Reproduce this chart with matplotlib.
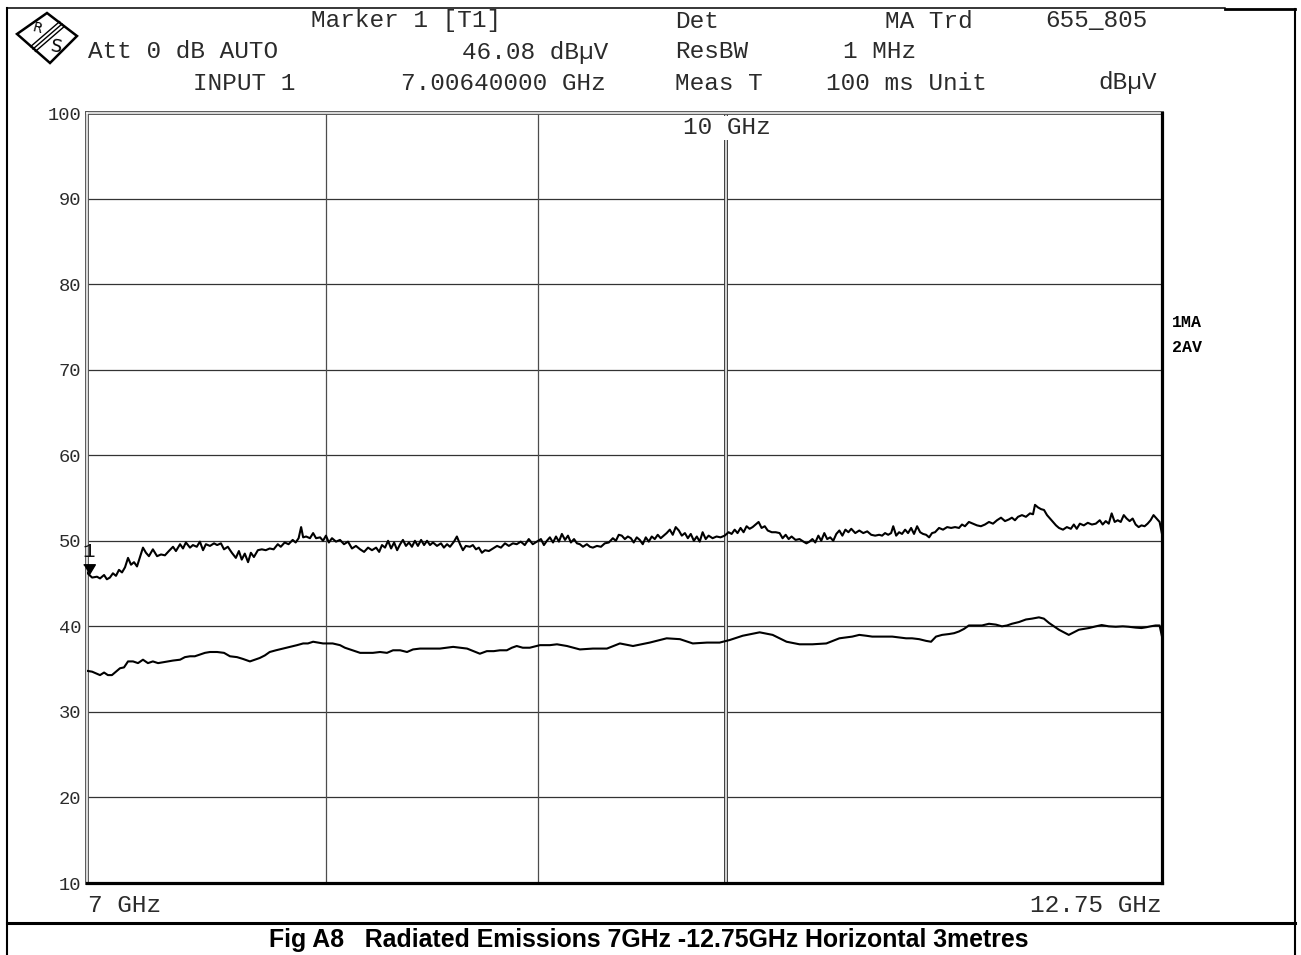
"""
EMC test plot: radiated emissions 7 GHz - 12.75 GHz, horizontal, 3 m.
Redraws the spectrum analyser screen (max-hold and average traces).
"""

import matplotlib
matplotlib.use("Agg")
import matplotlib.pyplot as plt
from matplotlib.patches import Polygon
from matplotlib.ticker import NullLocator

W, H, DPI = 1301, 955, 100
MONO = "Liberation Mono"
INK = "#2b2b2b"
TEXT_PT = 17.6

# sweep settings (GHz / dBuV)
F_START, F_STOP = 7.0, 12.75
LEVEL_MIN, LEVEL_MAX = 10, 100
Y_TICKS = [10, 20, 30, 40, 50, 60, 70, 80, 90, 100]
GRID_FREQS = [8, 9]
DECADE_FREQ = 10

MARKER_FREQ = 7.0064
MARKER_LEVEL = 46.08

# trace 1: max hold
MA_GHZ = [
    7.000, 7.0064, 7.020, 7.039, 7.051, 7.067, 7.078, 7.090, 7.102, 7.114,
    7.126, 7.138, 7.150, 7.162, 7.174, 7.186, 7.198, 7.210, 7.222, 7.234,
    7.246, 7.262, 7.279, 7.295, 7.311, 7.327, 7.344, 7.356, 7.373, 7.385,
    7.397, 7.414, 7.426, 7.442, 7.455, 7.468, 7.480, 7.497, 7.514, 7.527,
    7.543, 7.556, 7.572, 7.589, 7.606, 7.619, 7.631, 7.644, 7.658, 7.670,
    7.683, 7.700, 7.717, 7.734, 7.751, 7.768, 7.786, 7.799, 7.816, 7.833,
    7.851, 7.864, 7.877, 7.888, 7.897, 7.910, 7.927, 7.941, 7.954, 7.972,
    7.985, 7.998, 8.011, 8.025, 8.043, 8.061, 8.079, 8.097, 8.115, 8.133,
    8.152, 8.170, 8.188, 8.206, 8.225, 8.239, 8.252, 8.266, 8.280, 8.294,
    8.308, 8.322, 8.336, 8.349, 8.363, 8.377, 8.391, 8.405, 8.419, 8.434,
    8.448, 8.462, 8.476, 8.490, 8.509, 8.528, 8.542, 8.557, 8.571, 8.590,
    8.604, 8.619, 8.633, 8.647, 8.667, 8.681, 8.696, 8.710, 8.725, 8.740,
    8.759, 8.779, 8.799, 8.818, 8.838, 8.857, 8.877, 8.896, 8.916, 8.936,
    8.956, 8.976, 8.997, 9.017, 9.032, 9.047, 9.062, 9.078, 9.093, 9.108,
    9.123, 9.139, 9.154, 9.169, 9.185, 9.200, 9.215, 9.231, 9.251, 9.267,
    9.282, 9.303, 9.324, 9.344, 9.365, 9.386, 9.402, 9.417, 9.433, 9.449,
    9.465, 9.481, 9.496, 9.512, 9.528, 9.544, 9.560, 9.576, 9.592, 9.608,
    9.624, 9.640, 9.656, 9.672, 9.689, 9.705, 9.721, 9.738, 9.754, 9.771,
    9.787, 9.803, 9.820, 9.836, 9.852, 9.868, 9.885, 9.901, 9.923, 9.945,
    9.967, 9.990, 10.012, 10.029, 10.046, 10.062, 10.079, 10.096, 10.113, 10.130,
    10.147, 10.164, 10.181, 10.198, 10.216, 10.233, 10.256, 10.279, 10.301, 10.318,
    10.336, 10.353, 10.370, 10.393, 10.416, 10.439, 10.456, 10.474, 10.491, 10.508,
    10.526, 10.543, 10.561, 10.578, 10.596, 10.614, 10.632, 10.650, 10.668, 10.686,
    10.704, 10.721, 10.745, 10.769, 10.793, 10.817, 10.841, 10.865, 10.889, 10.907,
    10.925, 10.944, 10.962, 10.975, 10.993, 11.011, 11.029, 11.048, 11.066, 11.085,
    11.103, 11.122, 11.141, 11.159, 11.178, 11.197, 11.215, 11.234, 11.259, 11.284,
    11.310, 11.335, 11.360, 11.385, 11.404, 11.423, 11.448, 11.474, 11.500, 11.525,
    11.551, 11.577, 11.603, 11.629, 11.655, 11.681, 11.707, 11.726, 11.746, 11.766,
    11.792, 11.818, 11.845, 11.865, 11.878, 11.898, 11.918, 11.938, 11.958, 11.978,
    11.998, 12.018, 12.038, 12.065, 12.091, 12.118, 12.138, 12.158, 12.179, 12.206,
    12.233, 12.261, 12.288, 12.315, 12.335, 12.356, 12.377, 12.397, 12.418, 12.439,
    12.460, 12.481, 12.501, 12.522, 12.543, 12.564, 12.585, 12.605, 12.627, 12.648,
    12.669, 12.690, 12.711, 12.733, 12.750,
]
MA_DBUV = [
    46.3, 46.08, 45.7, 45.8, 45.6, 46.0, 45.5, 45.7, 46.2, 45.9,
    46.6, 46.3, 46.9, 48.0, 47.2, 47.5, 47.0, 48.1, 49.2, 48.6,
    48.2, 49.0, 48.2, 48.4, 48.3, 48.8, 49.3, 48.8, 49.6, 49.1,
    49.8, 49.2, 49.5, 49.3, 49.9, 48.9, 49.6, 49.4, 49.7, 49.5,
    49.7, 49.0, 49.3, 48.6, 48.0, 48.8, 47.8, 48.5, 47.5, 48.6,
    48.1, 48.9, 49.0, 48.9, 49.1, 49.0, 49.6, 49.3, 49.8, 49.6,
    50.1, 49.8, 50.3, 51.6, 50.4, 50.5, 50.3, 50.9, 50.3, 50.4,
    50.0, 50.6, 49.8, 50.3, 49.9, 50.1, 49.6, 49.9, 49.1, 49.4,
    49.0, 48.7, 49.2, 48.9, 49.2, 48.7, 49.5, 49.2, 50.0, 49.1,
    49.8, 48.9, 49.6, 50.1, 49.4, 49.8, 49.3, 50.0, 49.4, 50.1,
    49.5, 50.0, 49.5, 49.8, 49.4, 49.7, 49.2, 49.6, 49.3, 49.9,
    50.5, 49.6, 48.9, 49.4, 49.3, 49.5, 49.0, 49.2, 48.6, 48.9,
    48.8, 49.1, 49.4, 49.2, 49.7, 49.4, 49.7, 49.6, 49.9, 49.5,
    50.2, 49.6, 49.9, 50.2, 49.5, 50.0, 50.4, 49.8, 50.5, 49.9,
    50.8, 50.1, 50.6, 49.8, 50.2, 49.7, 49.6, 49.3, 49.6, 49.3,
    49.2, 49.4, 49.3, 49.7, 49.8, 50.3, 50.0, 50.7, 50.6, 50.2,
    50.5, 50.3, 49.8, 50.4, 50.1, 49.6, 50.4, 49.9, 50.5, 50.2,
    50.7, 50.3, 50.6, 50.9, 51.3, 50.7, 51.6, 51.2, 50.6, 50.9,
    50.3, 50.8, 50.0, 50.5, 49.9, 51.0, 50.2, 50.6, 50.3, 50.5,
    50.4, 50.6, 51.0, 50.8, 51.3, 50.9, 51.5, 51.0, 51.7, 51.4,
    51.6, 51.9, 52.2, 51.5, 51.7, 51.2, 51.0, 51.0, 50.9, 50.3,
    50.7, 50.2, 50.5, 50.1, 50.2, 49.9, 49.7, 49.9, 50.2, 49.8,
    50.6, 50.0, 50.9, 50.2, 50.4, 50.0, 50.8, 51.2, 50.6, 51.3,
    51.0, 51.4, 50.9, 51.2, 50.9, 51.1, 50.7, 50.6, 50.7, 50.6,
    50.9, 50.7, 50.9, 51.7, 50.6, 51.0, 50.8, 51.3, 50.9, 51.5,
    50.8, 51.7, 51.0, 50.8, 50.7, 50.4, 50.9, 51.0, 51.5, 51.3,
    51.6, 51.5, 51.6, 51.5, 51.9, 51.7, 52.2, 52.0, 51.8, 51.7,
    51.9, 52.2, 52.0, 52.4, 52.7, 52.3, 52.5, 52.7, 52.4, 52.8,
    53.0, 52.8, 53.2, 53.1, 54.2, 53.9, 53.7, 53.6, 53.0, 52.6,
    52.2, 51.8, 51.5, 51.3, 51.6, 51.4, 51.9, 51.4, 52.0, 51.8,
    52.1, 51.9, 52.0, 52.4, 51.9, 52.3, 52.0, 53.2, 52.2, 52.4,
    52.2, 53.0, 52.6, 52.3, 52.6, 51.9, 51.6, 51.8, 51.7, 52.0,
    52.4, 53.0, 52.6, 52.2, 50.8,
]

# trace 2: average
AV_GHZ = [
    7.000, 7.020, 7.035, 7.051, 7.067, 7.082, 7.098, 7.114, 7.130, 7.146,
    7.162, 7.182, 7.202, 7.222, 7.242, 7.262, 7.283, 7.303, 7.323, 7.344,
    7.373, 7.393, 7.414, 7.434, 7.455, 7.476, 7.497, 7.527, 7.556, 7.581,
    7.611, 7.635, 7.666, 7.687, 7.708, 7.730, 7.751, 7.778, 7.809, 7.840,
    7.870, 7.897, 7.918, 7.941, 7.963, 7.985, 8.028, 8.061, 8.083, 8.106,
    8.129, 8.152, 8.184, 8.210, 8.243, 8.275, 8.303, 8.336, 8.368, 8.396,
    8.429, 8.462, 8.490, 8.523, 8.586, 8.653, 8.715, 8.749, 8.783, 8.813,
    8.847, 8.872, 8.896, 8.926, 8.961, 9.012, 9.062, 9.098, 9.149, 9.215,
    9.282, 9.355, 9.423, 9.492, 9.581, 9.672, 9.744, 9.814, 9.892, 9.962,
    10.018, 10.091, 10.187, 10.261, 10.341, 10.416, 10.491, 10.573, 10.650, 10.727,
    10.769, 10.811, 10.847, 10.889, 10.931, 10.969, 11.011, 11.054, 11.091, 11.135,
    11.178, 11.209, 11.240, 11.278, 11.322, 11.354, 11.385, 11.417, 11.448, 11.493,
    11.532, 11.577, 11.622, 11.661, 11.694, 11.726, 11.772, 11.818, 11.858, 11.904,
    11.937, 11.971, 12.004, 12.038, 12.071, 12.104, 12.138, 12.172, 12.206, 12.240,
    12.288, 12.328, 12.377, 12.425, 12.474, 12.515, 12.564, 12.605, 12.641, 12.669,
    12.704, 12.733, 12.750,
]
AV_DBUV = [
    34.8, 34.7, 34.5, 34.3, 34.6, 34.3, 34.3, 34.7, 35.1, 35.2,
    35.9, 35.9, 35.7, 36.1, 35.7, 35.9, 35.7, 35.8, 35.9, 36.0,
    36.1, 36.4, 36.5, 36.5, 36.7, 36.9, 37.0, 37.0, 36.9, 36.5,
    36.4, 36.2, 35.9, 36.1, 36.3, 36.6, 37.0, 37.2, 37.4, 37.6,
    37.8, 38.0, 38.0, 38.2, 38.1, 38.0, 38.0, 37.8, 37.5, 37.3,
    37.1, 36.9, 36.9, 36.9, 37.0, 36.9, 37.2, 37.2, 37.0, 37.3,
    37.4, 37.4, 37.4, 37.4, 37.6, 37.4, 36.8, 37.1, 37.1, 37.2,
    37.2, 37.5, 37.7, 37.5, 37.5, 37.8, 37.8, 37.9, 37.7, 37.3,
    37.4, 37.4, 38.0, 37.7, 38.1, 38.6, 38.5, 38.0, 38.1, 38.1,
    38.4, 38.9, 39.3, 39.0, 38.2, 37.9, 37.9, 38.0, 38.6, 38.8,
    39.0, 38.9, 38.8, 38.8, 38.8, 38.8, 38.7, 38.6, 38.6, 38.5,
    38.3, 38.2, 38.8, 39.0, 39.1, 39.2, 39.4, 39.7, 40.1, 40.1,
    40.1, 40.3, 40.2, 40.0, 40.1, 40.3, 40.5, 40.8, 40.9, 41.05,
    40.9, 40.4, 40.0, 39.6, 39.3, 39.0, 39.3, 39.6, 39.7, 39.8,
    40.0, 40.15, 40.0, 39.95, 40.0, 39.95, 39.85, 39.8, 39.9, 40.0,
    40.1, 40.1, 38.8,
]

# screen header: text, left x, centre y (pixels)
HEADER = [
    ("Marker 1 [T1]", 311, 21), ("Det", 675, 21), ("MA Trd", 885, 21), ("655_805", 1045, 21),
    ("Att 0 dB AUTO", 88, 52), ("46.08 dBµV", 462, 52), ("ResBW", 675, 52), ("1 MHz", 843, 52),
    ("INPUT 1", 193, 83), ("7.00640000 GHz", 401, 83), ("Meas T", 675, 83),
    ("100 ms Unit", 826, 83), ("dBµV", 1098, 83),
]
TRACE_TAGS = [("1MA", 1172, 322), ("2AV", 1172, 347)]
CAPTION = "Fig A8   Radiated Emissions 7GHz -12.75GHz Horizontal 3metres"

fig = plt.figure(figsize=(W / DPI, H / DPI), dpi=DPI)

# page overlay in pixel units for frame, header and logo
page = fig.add_axes([0, 0, 1, 1], zorder=0)
page.set_xlim(0, W)
page.set_ylim(H, 0)
page.axis("off")

page.plot([7, 7], [8, H], color="black", lw=1.5)
page.plot([1295, 1295], [9, H], color="black", lw=1.5)
page.plot([7, 1225], [8, 8], color="black", lw=1.1)
page.plot([1225, 1295], [9, 9], color="black", lw=2.0)
page.plot([7, 1295], [923, 923], color="black", lw=2.2)

# R&S logo
page.add_patch(Polygon([(47, 13), (77, 36), (50, 63), (17, 34)], closed=True,
                       fc="white", ec="black", lw=1.8))
for off in (-2.4, 0, 2.4):
    page.plot([62 + off, 33 + off], [24 + off, 49 + off], color="black", lw=1.0)
page.text(37, 28, "R", fontsize=10, family="DejaVu Sans", rotation=-15,
          ha="center", va="center")
page.text(56, 47, "S", fontsize=13, family="DejaVu Sans", rotation=-10,
          ha="center", va="center")

for text, x, y in HEADER:
    page.text(x, y, text, family=MONO, fontsize=TEXT_PT, color=INK, ha="left", va="center")
for text, x, y in TRACE_TAGS:
    page.text(x, y, text, family=MONO, fontsize=12, weight="bold", color="black",
              ha="left", va="center")
page.text(649, 940, CAPTION, family="Liberation Sans", fontsize=17.9, weight="bold",
          ha="center", va="center")

# measurement diagram
ax = fig.add_axes([87 / W, 1 - 883 / H, 1075 / W, 770 / H], zorder=1)
ax.set_xscale("log")
ax.set_xlim(F_START, F_STOP)
ax.set_ylim(LEVEL_MIN, LEVEL_MAX)
ax.set_xticks([])
ax.xaxis.set_minor_locator(NullLocator())
ax.set_yticks(Y_TICKS)
ax.set_yticklabels([str(v) for v in Y_TICKS], family=MONO, fontsize=13.5, color=INK)
ax.tick_params(axis="y", length=0, pad=4)
ax.yaxis.grid(True, color="#333333", lw=0.9, zorder=1)
ax.set_axisbelow(True)
for s in ax.spines.values():
    s.set_visible(False)

for f in GRID_FREQS:
    ax.axvline(f, color="#4d4d4d", lw=0.9, zorder=1)
ax.axvline(DECADE_FREQ, color="#3a3a3a", lw=2.8, zorder=1)
ax.axvline(DECADE_FREQ, color="white", lw=1.1, zorder=1.1)

ax.plot(MA_GHZ, MA_DBUV, color="black", lw=1.5, zorder=5)
ax.plot(AV_GHZ, AV_DBUV, color="black", lw=1.5, zorder=5)

# frame of the diagram: double lines left/top, heavy lines right/bottom
ax.axvline(F_START, color="#555555", lw=2.8, clip_on=False, zorder=4)
ax.axvline(F_START, color="white", lw=1.1, clip_on=False, zorder=4.1)
ax.axhline(LEVEL_MAX, color="#555555", lw=2.8, clip_on=False, zorder=4)
ax.axhline(LEVEL_MAX, color="white", lw=1.1, clip_on=False, zorder=4.1)
ax.axvline(F_STOP, color="black", lw=2.3, clip_on=False, zorder=6)
ax.axhline(LEVEL_MIN, color="black", lw=2.3, clip_on=False, zorder=6)

ax.text(DECADE_FREQ, 98.25, "10 GHz", family=MONO, fontsize=TEXT_PT, color=INK,
        ha="center", va="center", zorder=3,
        bbox=dict(fc="white", ec="none", pad=0.5))

# marker 1: triangle sitting on the trace
ax.plot([MARKER_FREQ], [MARKER_LEVEL], marker=[(-1.2, 2), (1.2, 2), (0, 0)],
        ms=14, color="black", zorder=7, clip_on=False)
ax.annotate("1", xy=(MARKER_FREQ, MARKER_LEVEL), xytext=(0, 16.5),
            textcoords="offset points", family=MONO, fontsize=15, color="#111111",
            ha="center", va="center", annotation_clip=False, zorder=8)

ax.annotate("7 GHz", xy=(F_START, LEVEL_MIN), xytext=(1, -16.5),
            textcoords="offset points", family=MONO, fontsize=TEXT_PT, color=INK,
            ha="left", va="center", annotation_clip=False)
ax.annotate("12.75 GHz", xy=(F_STOP, LEVEL_MIN), xytext=(0, -16.5),
            textcoords="offset points", family=MONO, fontsize=TEXT_PT, color=INK,
            ha="right", va="center", annotation_clip=False)

fig.savefig("out.png", dpi=DPI)
